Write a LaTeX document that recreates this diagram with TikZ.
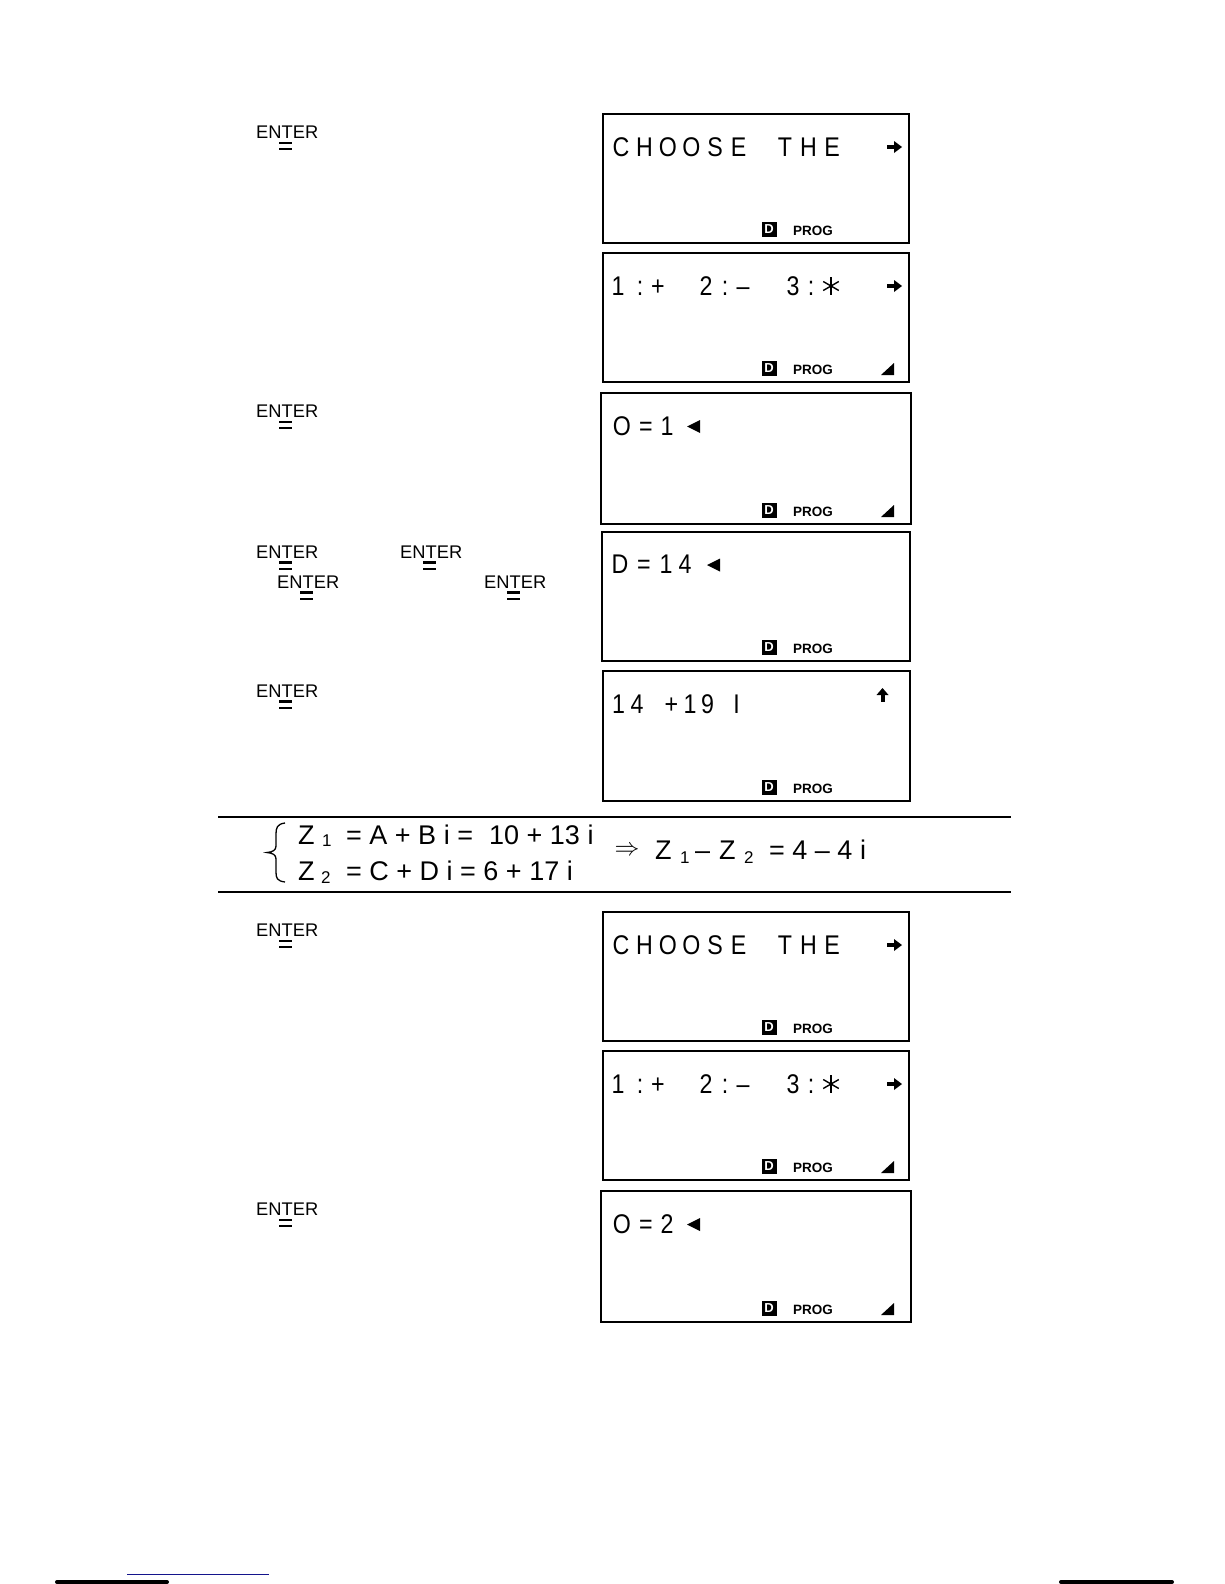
\documentclass[tikz,border=0pt]{standalone}
\usepackage{fontspec}
\setmainfont{Liberation Sans}
\newfontfamily\lcdfont[FakeStretch=0.86]{Liberation Sans}
\definecolor{linkblue}{RGB}{20,20,140}
\tikzset{
  x=1pt, y=-1pt,
  lcd/.style={font=\lcdfont\fontsize{27}{30}\selectfont, inner sep=0pt, anchor=base},
  screen/.style={draw=black, line width=1.8pt},
  dmark/.style={fill=black, text=white, font=\bfseries\fontsize{13}{13}\selectfont, minimum size=15pt, inner sep=0pt},
  prog/.style={font=\bfseries\fontsize{13.5}{15}\selectfont, inner sep=0pt, anchor=base west},
  keylbl/.style={font=\fontsize{18.3}{20}\selectfont, inner sep=0pt, anchor=base west},
  eqtext/.style={font=\fontsize{27}{30}\selectfont, inner sep=0pt, anchor=base west},
  subtext/.style={font=\fontsize{17}{20}\selectfont, inner sep=0pt, anchor=base west},
  eqbar/.style={line width=2.2pt},
}
% ENTER key label with "=" below the T : name, x, baseline
\newcommand\enterkey[3]{%
  \node[keylbl] (#1) at (#2,#3) {ENTER};
  \draw[eqbar] ({#2+23},{#3+4.5}) -- ({#2+36},{#3+4.5});
  \draw[eqbar] ({#2+23},{#3+10.8}) -- ({#2+36},{#3+10.8});
}
% screen frame with status line: name, x1, y1, x2, y2
\newcommand\scrbox[5]{%
  \coordinate (#1-nw) at (#2,#3);
  \coordinate (#1-se) at (#4,#5);
  \draw[screen] (#1-nw) rectangle (#1-se);
  \node[dmark] (#1-d) at (769,{#5-13.5}) {D};
  \node[prog] (#1-p) at (793,{#5-7.5}) {PROG};
}
\newcommand\cornertri[1]{%
  \fill (894,{#1-19}) -- (894,{#1-7}) -- (881,{#1-7}) -- cycle;}
\newcommand\rarrow[1]{%
  \fill (887,{#1-2.2}) rectangle (895,{#1+2.2});
  \fill (894,{#1-6}) -- (902,#1) -- (894,{#1+6}) -- cycle;}
\newcommand\larrow[2]{%
  \fill (#1,#2) -- ({#1+13},{#2-6.5}) -- ({#1+13},{#2+6.5}) -- cycle;}
\newcommand\asterisk[2]{%
  \draw[line width=1.4pt] (#1,{#2-9}) -- (#1,{#2+9});
  \draw[line width=1.4pt] ({#1-7.8},{#2-4.5}) -- ({#1+7.8},{#2+4.5});
  \draw[line width=1.4pt] ({#1-7.8},{#2+4.5}) -- ({#1+7.8},{#2-4.5});}
\newcommand\chooseblock[1]{%
  \scrbox{#1a}{603}{114}{909}{243}
  \foreach \ch/\xx [count=\i] in {C/621,H/644.5,O/668,O/691.5,S/715,E/738.5,T/785,H/808.5,E/832}
    \node[lcd] (#1a-\i) at (\xx,156) {\ch};
  \rarrow{147}
  \scrbox{#1b}{603}{253}{909}{382}
  \foreach \ch/\xx [count=\i] in {1/618,:/640,+/658,2/706,:/725,–/743,3/793,:/811}
    \node[lcd] (#1b-\i) at (\xx,295) {\ch};
  \asterisk{831}{286}
  \rarrow{286}
  \cornertri{382}
}
\begin{document}
\begin{tikzpicture}
\useasboundingbox (0,0) rectangle (1224,1584);
\fill[white] (0,0) rectangle (1224,1584);

% ---------- upper part ----------
\enterkey{k1}{256}{138.5}
\chooseblock{u}

\enterkey{k2}{256}{417.5}
\scrbox{u3}{601}{393}{911}{524}
\foreach \ch/\xx [count=\i] in {O/622,=/646,1/667}
  \node[lcd] (u3-\i) at (\xx,435) {\ch};
\larrow{687}{426.5}
\cornertri{524}

\enterkey{k3a}{256}{558}
\enterkey{k3b}{400}{558}
\enterkey{k3c}{277}{588}
\enterkey{k3d}{484}{588}
\scrbox{u4}{602}{532}{910}{661}
\foreach \ch/\xx [count=\i] in {D/620,=/644,1/666,4/685}
  \node[lcd] (u4-\i) at (\xx,573) {\ch};
\larrow{707}{565}

\enterkey{k4}{256}{697}
\scrbox{u5}{603}{671}{910}{801}
\foreach \ch/\xx [count=\i] in {1/618.5,4/637,+/671.5,1/690,9/707.5,I/736.5}
  \node[lcd] (u5-\i) at (\xx,713) {\ch};
\fill (882.5,688) -- (888.5,695) -- (876.5,695) -- cycle;
\fill (880.5,694) rectangle (884.5,702);

% ---------- equation band ----------
\draw[line width=2pt] (218,817) -- (1011,817);
\draw[line width=2pt] (218,892) -- (1011,892);
\draw[line width=1.3pt] (285,823) .. controls (277,824) and (276,828) .. (276,834)
  -- (276,846) .. controls (276,850) and (273,852) .. (267,852.5)
  .. controls (273,853) and (276,855) .. (276,859)
  -- (276,872) .. controls (276,878) and (277,881) .. (285,882);
\node[eqtext] (z1) at (298,844) {Z};
\node[subtext] (z1s) at (322,846) {1};
\node[eqtext] (z1a) at (346,844) {= A + B i =};
\node[eqtext] (z1b) at (489,844) {10 + 13 i};
\node[eqtext] (z2) at (298,880) {Z};
\node[subtext] (z2s) at (321,883) {2};
\node[eqtext] (z2a) at (346,880) {= C + D i = 6 + 17 i};
\node[font=\fontsize{25}{25}\selectfont, inner sep=0pt] (impl) at (627,851) {$\Rightarrow$};
\node[eqtext] (r1) at (655,859) {Z};
\node[subtext] (r1s) at (680,863) {1};
\node[eqtext] (r2) at (695,859) {–};
\node[eqtext] (r3) at (719,859) {Z};
\node[subtext] (r3s) at (744,863) {2};
\node[eqtext] (r4) at (769,859) {= 4 – 4 i};

% ---------- lower part ----------
\begin{scope}[yshift=-798pt]
\enterkey{k5}{256}{138.5}
\chooseblock{l}
\enterkey{k6}{256}{417.5}
\scrbox{l3}{601}{393}{911}{524}
\foreach \ch/\xx [count=\i] in {O/622,=/646,2/667}
  \node[lcd] (l3-\i) at (\xx,435) {\ch};
\larrow{687}{426.5}
\cornertri{524}
\end{scope}

% ---------- page edge marks ----------
\draw[linkblue, line width=1pt] (127,1574) -- (269,1574);
\draw[line width=4pt, line cap=round] (57,1582) -- (167,1582);
\draw[line width=4pt, line cap=round] (1061,1582) -- (1172,1582);
\end{tikzpicture}
\end{document}
